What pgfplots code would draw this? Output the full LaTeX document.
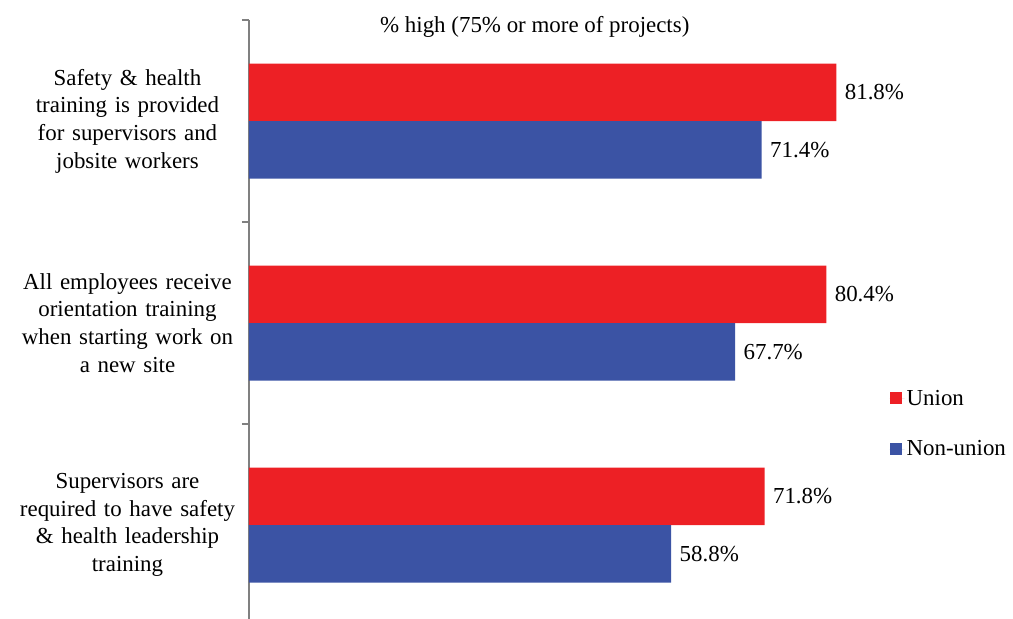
\documentclass[border=0pt]{standalone}
\usepackage{fontspec}
\setmainfont{Liberation Serif}
\usepackage{pgfplots}
\pgfplotsset{compat=1.18}
\definecolor{unionred}{RGB}{237,32,37}
\definecolor{nonblue}{RGB}{59,83,164}
\definecolor{axgray}{RGB}{128,128,128}
\newcommand{\lbl}{\fontsize{23}{27.8}\selectfont}
\begin{document}
\begin{tikzpicture}
\begin{axis}[
  at={(0,0)}, anchor=north west,
  width=718bp, height=606bp, scale only axis,
  clip=false,
  xbar, bar width=57.5bp,
  xmin=0, xmax=100,
  ymin=-0.5, ymax=2.5,
  hide x axis,
  axis y line*=left,
  y axis line style={draw=axgray, line width=1.6bp},
  ytick={0,1,2},
  major tick length=0pt,
  minor ytick={-0.5,0.5,1.5,2.5},
  minor tick length=7bp,
  tick align=outside,
  every tick/.style={draw=axgray, line width=1.2bp},
  yticklabels={
    {Supervisors are\\required to have safety\\\& health leadership\\training},
    {All employees receive\\orientation training\\when starting work on\\a new site},
    {Safety \& health\\training is provided\\for supervisors and\\jobsite workers}},
  yticklabel style={font=\lbl, align=center, text width=226bp, xshift=-5bp},
  /pgf/number format/assume math mode=true,
  nodes near coords={\pgfmathprintnumber[fixed,precision=1,fixed zerofill]{\pgfplotspointmeta}\%},
  nodes near coords align={horizontal},
  every node near coord/.append style={font=\lbl, text=black, xshift=5bp},
  legend style={at={(rel axis cs:0.892,0.393)}, anchor=north west, draw=none, fill=none,
    font=\lbl, row sep=30bp, inner sep=0pt, nodes={inner sep=2bp}},
  legend cell align=left,
  legend image code/.code={\fill[#1] (0bp,-6bp) rectangle (12bp,6bp); \path (0bp,0bp) -- (15bp,0bp);},
]
\addplot[fill=unionred, draw=none, bar shift=28.75bp] coordinates {(71.8,0) (80.4,1) (81.8,2)};
\addlegendentry{Union}
\addplot[fill=nonblue, draw=none, bar shift=-28.75bp] coordinates {(58.8,0) (67.7,1) (71.4,2)};
\addlegendentry{Non-union}
\node[font=\lbl, anchor=base, yshift=-13bp] at (rel axis cs:0.398,1) {\% high (75\% or more of projects)};
\end{axis}
\pgfresetboundingbox
\path[use as bounding box] (-249bp,20bp) rectangle (764bp,-599bp);
\end{tikzpicture}
\end{document}
